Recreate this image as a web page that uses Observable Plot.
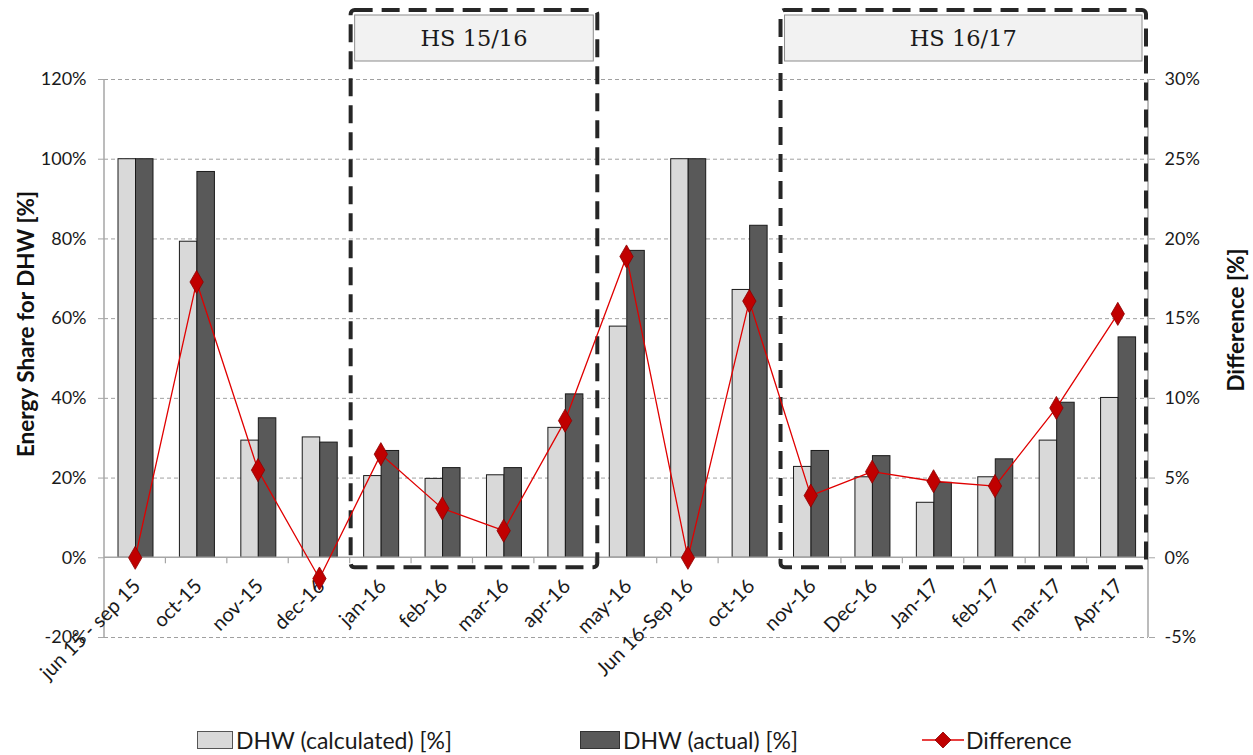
<!DOCTYPE html>
<html><head><meta charset="utf-8">
<script src="https://cdn.jsdelivr.net/npm/d3@7"></script>
<script src="https://cdn.jsdelivr.net/npm/@observablehq/plot@0.6"></script>
<style>
body{margin:0;background:#fff;font-family:Lato,"Noto Sans",sans-serif;}
#wrap{position:relative;width:1253px;height:755px;overflow:hidden;background:#fff;}
#chart{position:absolute;left:0;top:0;}
.leg{position:absolute;top:727px;height:26px;display:flex;align-items:center;font-size:23px;color:#1a1a1a;white-space:nowrap;}
.leg svg{margin-right:2px;}
</style></head><body><div id="wrap"><div id="chart"></div>
<div class="leg" style="left:197px"><svg width="37" height="20"><rect x="0.5" y="1.5" width="35" height="17" fill="#d9d9d9" stroke="#555"/></svg><span>DHW (calculated) [%]</span></div>
<div class="leg" style="left:580px"><svg width="41" height="20"><rect x="0.5" y="1.5" width="39" height="17" fill="#595959" stroke="#333"/></svg><span>DHW (actual) [%]</span></div>
<div class="leg" style="left:922px"><svg width="42" height="20"><line x1="0" y1="10" x2="42" y2="10" stroke="#e00000" stroke-width="1.3"/><path d="M21,2L29,10L21,18L13,10Z" fill="#c00000" stroke="#8b0000" stroke-width="0.8"/></svg><span>Difference</span></div>
</div>
<script>
// ---- data ----
const categories = ["jun 15 - sep 15","oct-15","nov-15","dec-16","jan-16","feb-16","mar-16","apr-16","may-16","Jun 16-Sep 16","oct-16","nov-16","Dec-16","Jan-17","feb-17","mar-17","Apr-17"];
const calculated = [100,79.3,29.4,30.2,20.5,19.8,20.7,32.6,58.0,100,67.2,22.8,20.2,13.8,20.2,29.4,40.1];
const actual     = [100,96.8,35.0,28.9,26.8,22.5,22.5,41.0,77.0,100,83.3,26.8,25.5,18.8,24.7,38.9,55.3];
const difference = [0,17.3,5.5,-1.3,6.5,3.1,1.7,8.6,18.9,0,16.1,3.9,5.4,4.8,4.5,9.4,15.3];
const leftTicks  = [-20,0,20,40,60,80,100,120];
const rightTicks = [-5,0,5,10,15,20,25,30];
const seasonLabels = ["HS 15/16","HS 16/17"];
const seasonFirst  = ["jan-16","nov-16"];
const seasonLast   = ["apr-16","Apr-17"];

// right axis maps onto left axis scale (30% <-> 120%)
const ratio = leftTicks[leftTicks.length-1] / rightTicks[rightTicks.length-1];
const rows = categories.map((c,i)=>({cat:c, calc:calculated[i], act:actual[i], diff:difference[i]}));

const W = 1253, H = 720, mL = 104, mR = 105, mT = 79, mB = H - 637;
const bw = (W - mL - mR) / categories.length;

function decor(index, scales, values, dims) {
  const {x, y} = scales;
  const g = d3.create("svg:g");
  const band = x.bandwidth();
  const left = dims.marginLeft, right = dims.width - dims.marginRight;
  const top = dims.marginTop, bottom = dims.height - dims.marginBottom;
  const y0 = y(0);
  // baseline + category ticks
  g.append("line").attr("x1", left).attr("x2", right).attr("y1", y0).attr("y2", y0)
    .attr("stroke", "#a6a6a6").attr("stroke-width", 1.5);
  categories.forEach((c,i)=>{
    if (i===0) return;
    const xx = x(c);
    g.append("line").attr("x1", xx).attr("x2", xx).attr("y1", y0).attr("y2", y0+6)
      .attr("stroke", "#a6a6a6").attr("stroke-width", 1.2);
  });
  // axis lines
  [left, right].forEach(xx => g.append("line").attr("x1", xx).attr("x2", xx)
    .attr("y1", top).attr("y2", bottom).attr("stroke", "#a6a6a6").attr("stroke-width", 1.5));
  // season boxes
  seasonLabels.forEach((lab, k) => {
    const x1 = x(seasonFirst[k]) + 1;
    const x2 = Math.min(x(seasonLast[k]) + band + 2, right - 2);
    const bt = top - 69, bb = y0 + 10;
    g.append("rect").attr("x", x1).attr("y", bt).attr("width", x2 - x1).attr("height", bb - bt)
      .attr("rx", 4).attr("fill", "none").attr("stroke", "#262626").attr("stroke-width", 4)
      .attr("stroke-dasharray", "18,9");
    g.append("rect").attr("x", x1 + 4).attr("y", bt + 5).attr("width", x2 - x1 - 8).attr("height", 46)
      .attr("fill", "#f2f2f2").attr("stroke", "#8c8c8c").attr("stroke-width", 1);
    g.append("text").attr("x", (x1 + x2) / 2).attr("y", bt + 28).attr("text-anchor", "middle")
      .attr("dominant-baseline", "central").attr("font-family", "'DejaVu Serif', serif")
      .attr("font-size", 22.5).attr("fill", "#1a1a1a").text(lab);
  });
  // axis titles
  g.append("text").attr("transform", `translate(25,324) rotate(-90)`)
    .attr("text-anchor", "middle").attr("dominant-baseline", "central")
    .attr("font-weight", "bold").attr("font-size", 22.5).attr("fill", "#111")
    .text("Energy Share for DHW [%]");
  g.append("text").attr("transform", `translate(1235,320) rotate(-90)`)
    .attr("text-anchor", "middle").attr("dominant-baseline", "central")
    .attr("font-weight", "bold").attr("font-size", 22.5).attr("fill", "#111")
    .text("Difference [%]");
  return g.node();
}

const chart = Plot.plot({
  width: W, height: H,
  marginLeft: mL, marginRight: mR, marginTop: mT, marginBottom: mB,
  x: {domain: categories, padding: 0, round: false, axis: null},
  y: {domain: [leftTicks[0], leftTicks[leftTicks.length-1]], axis: null},
  style: {fontFamily: "Lato, 'Noto Sans', sans-serif", background: "#fff", overflow: "visible"},
  marks: [
    Plot.gridY(leftTicks.filter(d => d !== 0), {stroke: "#a0a0a0", strokeOpacity: 1, strokeDasharray: "4,3", strokeWidth: 1}),
    Plot.axisY(leftTicks, {anchor: "left", tickFormat: d => d + "%", tickSize: 6, tickPadding: 12,
      fontSize: 18, stroke: "#a6a6a6", fill: "#1a1a1a", label: null}),
    Plot.axisY(leftTicks, {anchor: "right", tickFormat: d => (d / ratio) + "%", tickSize: 6, tickPadding: 10,
      fontSize: 18, stroke: "#a6a6a6", fill: "#1a1a1a", label: null}),
    Plot.barY(rows, {x: "cat", y: "calc", fill: "#d9d9d9", stroke: "#1a1a1a", strokeWidth: 1,
      insetLeft: 14, insetRight: bw - 31.5}),
    Plot.barY(rows, {x: "cat", y: "act", fill: "#595959", stroke: "#1a1a1a", strokeWidth: 1,
      insetLeft: 31.5, insetRight: bw - 49}),
    decor,
    Plot.text(rows, {x: "cat", y: () => 0, text: "cat", rotate: -45, textAnchor: "end",
      dy: 25, dx: 2, fontSize: 20, fill: "#1a1a1a"}),
    Plot.line(rows, {x: "cat", y: d => d.diff * ratio, stroke: "#e00000", strokeWidth: 1.3}),
    Plot.dot(rows, {x: "cat", y: d => d.diff * ratio, symbol: "diamond", r: 7,
      fill: "#c00000", stroke: "#8b0000", strokeWidth: 0.8})
  ]
});
document.getElementById("chart").appendChild(chart);
</script></body></html>
